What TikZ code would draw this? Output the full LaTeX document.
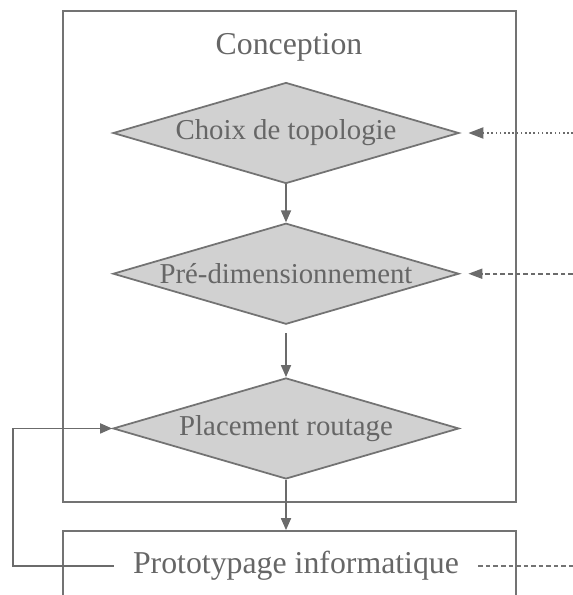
\documentclass[tikz,border=0pt]{standalone}
\usepackage{fontspec}
\setmainfont{Liberation Serif}
\usepackage{tikz}
\usetikzlibrary{shapes.geometric, arrows.meta, positioning}

\begin{document}
\begin{tikzpicture}[x=0.02cm, y=-0.02cm,
  every node/.style={text=black!60},
  decision/.style={diamond, aspect=3.4, inner sep=0pt,
    minimum width=6.92cm, minimum height=2.02cm,
    draw=black!55, line width=1pt, fill=black!18,
    font=\fontsize{16.4}{19}\selectfont},
  frame/.style={rectangle, draw=black!55, line width=1pt,
    minimum width=9.06cm},
  title/.style={font=\fontsize{18.1}{21}\selectfont},
  arrow/.style={draw=black!58, line width=1pt,
    -{Triangle[length=0.24cm, width=0.2cm]}},
  dots/.style={line width=1.2pt, dash pattern=on 0.9pt off 1.5pt},
  dashes/.style={dash pattern=on 2.6pt off 1.7pt}]

\useasboundingbox (0,0) rectangle (573,595);
\clip (0,0) rectangle (573,595);

% frames
\node (concep) [frame, minimum height=9.82cm] at (289.5,256.5) {};
\node (conlbl) [title] at (289,47) {Conception};
\node (proto) [frame, minimum height=2cm] at (289.5,581) {};
\node (protolbl) [title, inner xsep=0.38cm] at (296,566)
  {Prototypage informatique};

% decisions
\node (d1) [decision] at (286,133) {Choix de topologie};
\node (d2) [decision, below=0.76cm of d1] {Pr\'e-dimensionnement};
\node (d3) [decision, below=1.04cm of d2] {Placement routage};

\coordinate (rightedge) at (573,0);
\coordinate (inA) at (d1.east -| rightedge);
\coordinate (inB) at (d2.east -| rightedge);
\coordinate (outC) at (protolbl.east -| rightedge);

\draw [arrow] (d1) -- (d2);
\draw [arrow, shorten <=0.16cm] (d2) -- (d3);
\draw [arrow] (d3.south) -- (d3.south |- proto.north);
\draw [arrow] (protolbl.west) -- ++(-101,0) |- (d3.west);

\draw [arrow, dots, -{Triangle[length=0.3cm, width=0.22cm]},
  shorten >=0.17cm] (inA) -- (d1.east);
\draw [arrow, dashes, -{Triangle[length=0.28cm, width=0.2cm]},
  shorten >=0.17cm] (inB) -- (d2.east);
\draw [draw=black!55, line width=1pt, dashes] (protolbl.east) -- (outC);

\end{tikzpicture}
\end{document}
